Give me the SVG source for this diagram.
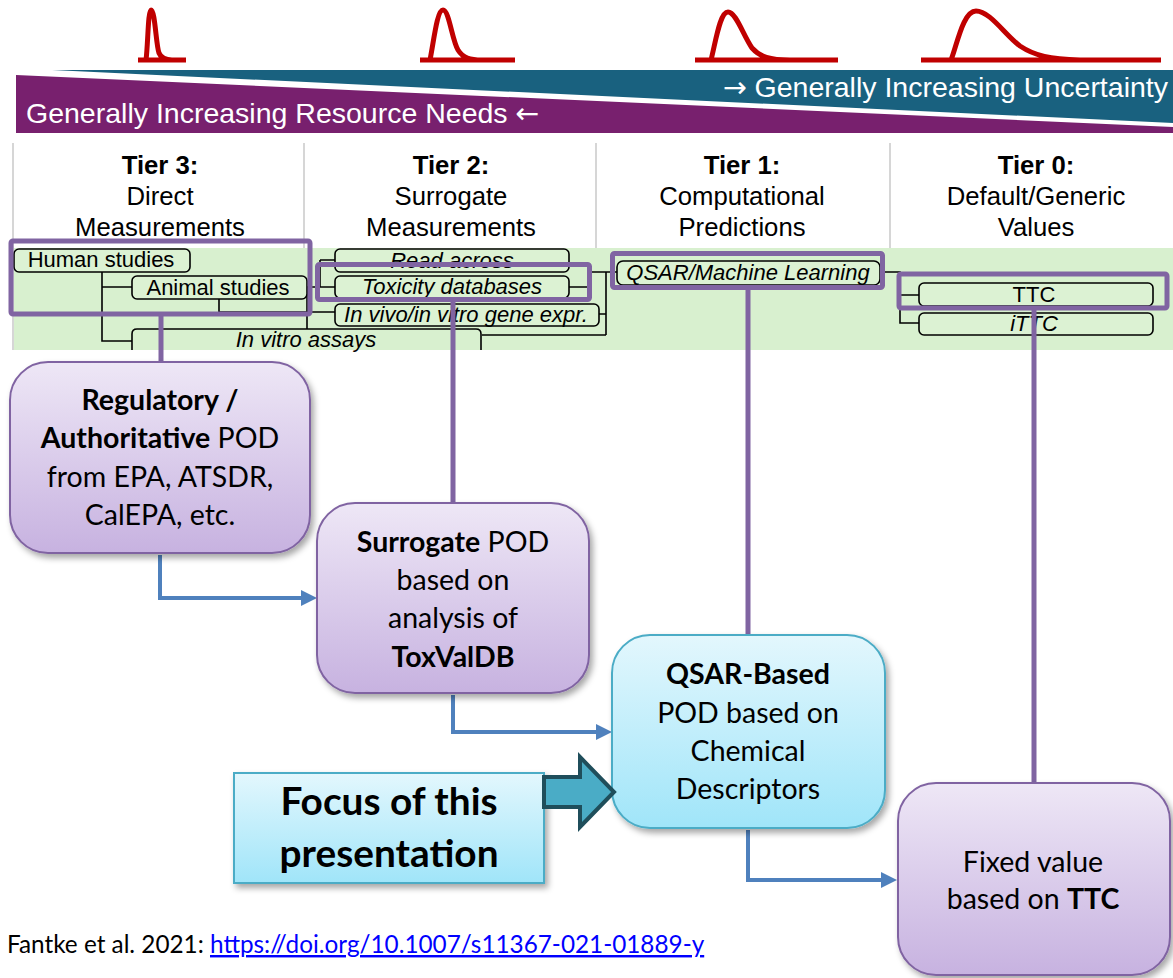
<svg xmlns="http://www.w3.org/2000/svg" width="1173" height="978" viewBox="0 0 1173 978">
<defs>
<style>
.band{font-family:"Liberation Sans",Arial,sans-serif;font-size:28.5px;fill:#fff}
.arr{font-family:"DejaVu Sans",sans-serif}
.hdr{font-family:"Liberation Sans",Arial,sans-serif;font-size:25.7px;fill:#000;text-anchor:middle}
.b{font-weight:bold}
.sep{stroke:#c8c8c8;stroke-width:1.5;fill:none}
.curve{stroke:#c00000;stroke-width:5;fill:none;stroke-linejoin:round}
.tl{stroke:#000;stroke-width:1.6;fill:none}
.tb{stroke:#000;stroke-width:1.6;fill:#dcf2d3}
.tt{font-family:"Liberation Sans",Arial,sans-serif;font-size:22px;fill:#000;text-anchor:middle}
.it{font-style:italic}
.hl{stroke:#8064a2;stroke-width:5;fill:none}
.pc{stroke:#8064a2;stroke-width:5;fill:none}
.lav{fill:url(#gLav);stroke:#8064a2;stroke-width:2;filter:url(#sh)}
.cy{fill:url(#gCy);stroke:#4bacc6;stroke-width:2;filter:url(#sh)}
.nt{font-family:Lato,"Open Sans",sans-serif;font-size:28.5px;fill:#000;text-anchor:middle}
.ft{font-family:Lato,"Open Sans",sans-serif;font-size:38.8px;font-weight:bold;fill:#000;text-anchor:middle}
.ba{stroke:#4f81bd;stroke-width:4;fill:none;marker-end:url(#ah)}
.foot{font-family:Lato,"Open Sans",sans-serif;font-size:24.3px;fill:#000}
</style>
<linearGradient id="gLav" x1="0" y1="0" x2="0" y2="1"><stop offset="0" stop-color="#eee7f6"/><stop offset="1" stop-color="#c7b2e0"/></linearGradient>
<linearGradient id="gCy" x1="0" y1="0" x2="0" y2="1"><stop offset="0" stop-color="#e3f7fd"/><stop offset="1" stop-color="#a0e5f9"/></linearGradient>
<filter id="sh" x="-10%" y="-10%" width="130%" height="130%"><feDropShadow dx="3" dy="4" stdDeviation="3" flood-color="#000" flood-opacity="0.35"/></filter>
<marker id="ah" markerUnits="userSpaceOnUse" markerWidth="16" markerHeight="16" refX="6" refY="8" orient="auto"><path d="M0,0 L16,8 L0,16 z" fill="#4f81bd"/></marker>
</defs>
<rect width="1173" height="978" fill="#fff"/>

<g id="curves">
<path class="curve" d="M138,60 H186 M146,60 C148,45 148,10 151,10 C155,10 156,45 159,53 C161,58 165,60 172,60"/>
<path class="curve" d="M420,60 H515 M430,60 C434,40 437,10 443,10 C449,10 452,40 458,50 C463,58 470,60 482,60"/>
<path class="curve" d="M695,60 H838 M711,60 C716,40 720,12 728,12 C736,12 743,35 752,48 C760,57 770,60 790,60"/>
<path class="curve" d="M921,60 H1161 M951,60 C957,45 963,11 976,11 C990,11 1005,35 1020,46 C1035,56 1050,59 1080,60"/>
</g>

<g id="bands">
<polygon points="52,70 1173,70 1173,123" fill="#19617f"/>
<polygon points="16,75 1173,127 1173,133 16,133" fill="#78206e"/>
<text class="band" x="1168" y="97" text-anchor="end"><tspan class="arr">→</tspan> Generally Increasing Uncertainty</text>
<text class="band" x="26" y="123">Generally Increasing Resource Needs <tspan class="arr">←</tspan></text>
</g>

<g id="tier-headers">
<line class="sep" x1="13" y1="143" x2="13" y2="350"/>
<line class="sep" x1="304" y1="143" x2="304" y2="248"/>
<line class="sep" x1="596" y1="143" x2="596" y2="248"/>
<line class="sep" x1="890" y1="143" x2="890" y2="248"/>
<text class="hdr" x="160" y="174"><tspan class="b">Tier 3:</tspan><tspan x="160" y="205">Direct</tspan><tspan x="160" y="236">Measurements</tspan></text>
<text class="hdr" x="451" y="174"><tspan class="b">Tier 2:</tspan><tspan x="451" y="205">Surrogate</tspan><tspan x="451" y="236">Measurements</tspan></text>
<text class="hdr" x="742" y="174"><tspan class="b">Tier 1:</tspan><tspan x="742" y="205">Computational</tspan><tspan x="742" y="236">Predictions</tspan></text>
<text class="hdr" x="1036" y="174"><tspan class="b">Tier 0:</tspan><tspan x="1036" y="205">Default/Generic</tspan><tspan x="1036" y="236">Values</tspan></text>
</g>

<rect id="green-band" x="14" y="248" width="1159" height="102" fill="#d8f0cf"/>

<g id="tree-lines">
<path class="tl" d="M102,272 V341 H132 M102,287 H132"/>
<path class="tl" d="M219,299 V312 H335 M307,287 H320 M307,287 V329"/>
<path class="tl" d="M320,260 V287 M320,260 H335 M320,287 H335"/>
<path class="tl" d="M569,287 H590 V272 H617 M599,314 H606 M606,272 V335 M482,335 H606"/>
<path class="tl" d="M880,272 H900 V323 H919 M900,295 H919"/>
</g>

<g id="tree-nodes">
<g id="t-human"><rect class="tb" x="14" y="249" width="176" height="23" rx="5"/><text class="tt" x="101" y="267">Human studies</text></g>
<g id="t-animal"><rect class="tb" x="132" y="276" width="175" height="23" rx="5"/><text class="tt" x="218" y="295">Animal studies</text></g>
<g id="t-invitro"><path class="tl" d="M132,350 V334 Q132,329 137,329 H476 Q481,329 481,334 V350" fill="#dcf2d3"/><text class="tt it" x="306" y="347">In vitro assays</text></g>
<g id="t-read"><rect class="tb" x="335" y="249" width="234" height="23" rx="5"/><text class="tt it" x="452" y="268">Read across</text></g>
<g id="t-toxdb"><rect class="tb" x="335" y="276" width="234" height="22" rx="5"/><text class="tt it" x="452" y="294">Toxicity databases</text></g>
<g id="t-gene"><rect class="tb" x="335" y="304" width="264" height="22" rx="5"/><text class="tt it" x="466" y="322">In vivo/in vitro gene expr.</text></g>
<g id="t-qsar"><rect class="tb" x="617" y="261" width="263" height="24" rx="6"/><text class="tt it" x="748" y="280">QSAR/Machine Learning</text></g>
<g id="t-ttc"><rect class="tb" x="919" y="283" width="234" height="23" rx="5"/><text class="tt" x="1034" y="302">TTC</text></g>
<g id="t-ittc"><rect class="tb" x="919" y="313" width="234" height="22" rx="5"/><text class="tt it" x="1034" y="331">iTTC</text></g>
</g>

<g id="highlights">
<rect class="hl" x="11" y="241" width="299" height="73" rx="2"/>
<rect class="hl" x="317.5" y="264.5" width="272" height="35" rx="2"/>
<rect class="hl" x="612.5" y="253.5" width="270" height="34" rx="2"/>
<rect class="hl" x="899" y="274" width="268" height="34" rx="2"/>
</g>

<g id="connectors">
<line class="pc" x1="161" y1="314" x2="161" y2="362"/>
<line class="pc" x1="453" y1="300" x2="453" y2="503"/>
<line class="pc" x1="748" y1="288" x2="748" y2="635"/>
<line class="pc" x1="1034" y1="308" x2="1034" y2="783"/>
<path class="ba" d="M160,555 V598 H307"/>
<path class="ba" d="M453,695 V732 H602"/>
<path class="ba" d="M748,830 V880 H887"/>
</g>

<g id="n-regulatory">
<rect class="lav" x="10" y="362" width="300" height="191" rx="38"/>
<text class="nt" x="160" y="410"><tspan class="b">Regulatory /</tspan><tspan x="160" y="448"><tspan class="b">Authoritative</tspan> POD</tspan><tspan x="160" y="487">from EPA, ATSDR,</tspan><tspan x="160" y="525">CalEPA, etc.</tspan></text>
</g>
<g id="n-surrogate">
<rect class="lav" x="317" y="503" width="272" height="190" rx="38"/>
<text class="nt" x="453" y="552"><tspan class="b">Surrogate</tspan> POD<tspan x="453" y="590">based on</tspan><tspan x="453" y="628">analysis of</tspan><tspan x="453" y="667" class="b">ToxValDB</tspan></text>
</g>
<g id="n-qsar">
<rect class="cy" x="612" y="635" width="273" height="193" rx="38"/>
<text class="nt" x="748" y="684"><tspan class="b">QSAR-Based</tspan><tspan x="748" y="723">POD based on</tspan><tspan x="748" y="761">Chemical</tspan><tspan x="748" y="799">Descriptors</tspan></text>
</g>
<g id="n-fixed">
<rect class="lav" x="898" y="783" width="272" height="192" rx="38"/>
<text class="nt" x="1033" y="872">Fixed value<tspan x="1033" y="909">based on <tspan class="b">TTC</tspan></tspan></text>
</g>
<g id="n-focus">
<rect class="cy" x="234" y="773" width="310" height="110"/>
<text class="ft" x="389" y="815">Focus of this<tspan x="389" y="867">presentation</tspan></text>
</g>
<g id="focus-arrow">
<polygon points="544,777 580,777 580,757 614,792 580,827 580,807 544,807" fill="#4aacc6" stroke="#1f4e5b" stroke-width="4" stroke-linejoin="miter"/>
</g>

<g id="footer">
<text class="foot" x="7" y="953">Fantke et al. 2021: <tspan fill="#0000ff" text-decoration="underline">https://doi.org/10.1007/s11367-021-01889-y</tspan></text>
</g>
</svg>
